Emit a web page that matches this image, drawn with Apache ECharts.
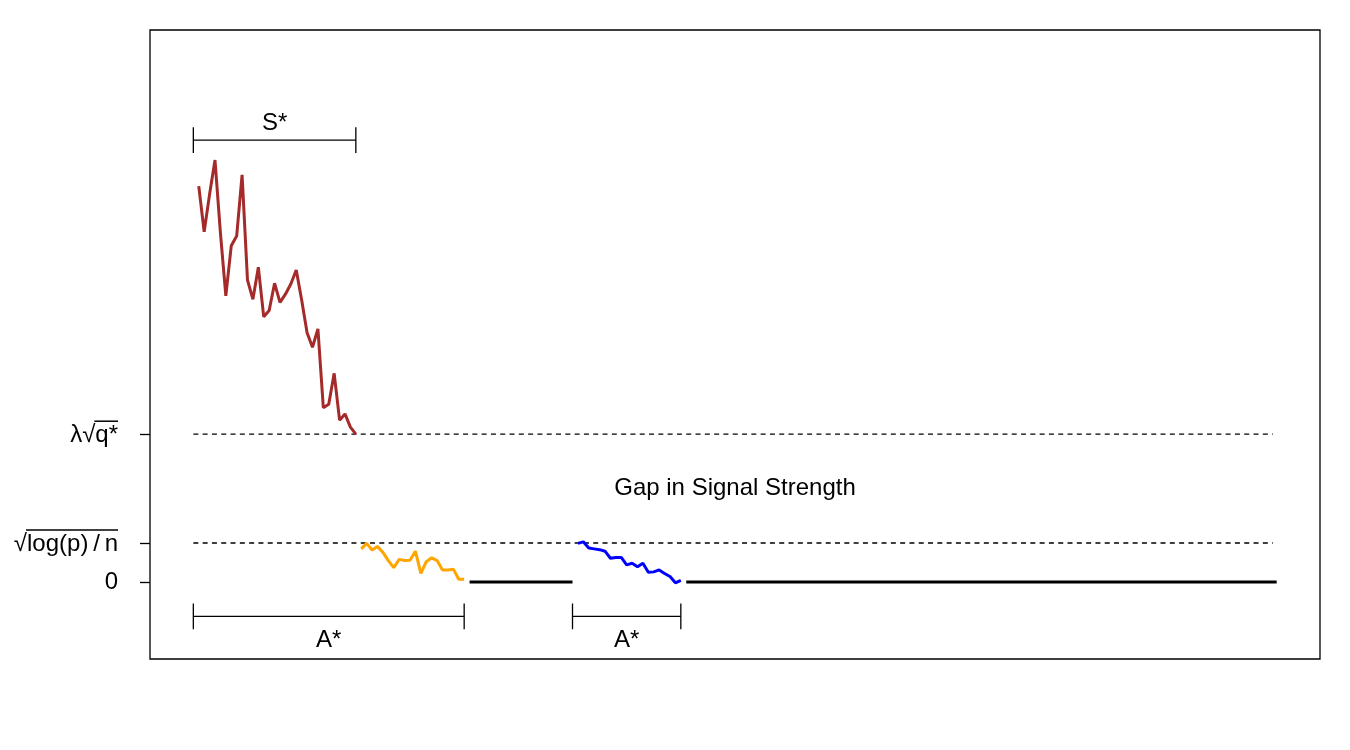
<!DOCTYPE html>
<html>
<head>
<meta charset="utf-8">
<script src="https://cdn.jsdelivr.net/npm/echarts@6/dist/echarts.min.js"></script>
</head>
<body style="margin:0;width:1350px;height:750px;background:#fff">
<div id="container" style="width:1350px;height:750px"></div>
<script>
// y units: sqrt(log(p)/n) = 1
var lamQ = 3.79;
var noiseLevel = 1;
var tickValues = [0, noiseLevel, lamQ];
// [plain prefix, overlined part]
var tickLabels = [['0', ''], ['\u221A', 'log(p)\u2009/\u2009n'], ['\u03BB\u221A', 'q*']];

// strong signals, x = 1..30
var strongStart = 1;
var strongVals = [10.15, 8.98, 9.94, 10.82, 8.95, 7.34, 8.62, 8.87, 10.44, 7.74,
                  7.25, 8.07, 6.80, 6.96, 7.66, 7.17, 7.38, 7.64, 8.00, 7.23,
                  6.39, 6.02, 6.49, 4.47, 4.56, 5.35, 4.15, 4.31, 3.97, 3.79];
// weak signals (orange), x = 31..50
var weakStart1 = 31;
var weakVals1 = [0.85, 0.99, 0.82, 0.91, 0.76, 0.55, 0.37, 0.58, 0.55, 0.56,
                 0.79, 0.22, 0.52, 0.62, 0.55, 0.31, 0.31, 0.33, 0.07, 0.07];
// weak signals (blue), x = 71..90
var weakStart2 = 71;
var weakVals2 = [0.99, 1.03, 0.87, 0.85, 0.83, 0.79, 0.61, 0.63, 0.63, 0.44,
                 0.48, 0.39, 0.48, 0.25, 0.26, 0.31, 0.22, 0.14, -0.02, 0.04];
// zero runs [from, to]
var zeroRuns = [[51, 70], [91, 200]];

// brackets: [from, to, level, label]
var brackets = [[0, 30, 11.33, 'S*'], [0, 50, -0.88, 'A*'], [70, 90, -0.88, 'A*']];
var gapText = ['Gap in Signal Strength', 100, 2.41];

var FONT = 'Liberation Sans';
var ctx = document.createElement('canvas').getContext('2d');
ctx.font = '24px "' + FONT + '"';
function textW(s) { return s ? ctx.measureText(s).width : 0; }

function toPts(start, vals) {
  return vals.map(function (v, i) { return [start + i, v]; });
}

var series = [];
function seg(data, color, width, type) {
  series.push({
    type: 'line', data: data, symbol: 'none', silent: true, animation: false,
    lineStyle: { color: color, width: width, type: type || 'solid' }
  });
}

seg([[0, lamQ], [199.3, lamQ]], '#000', 1.3, [5, 4.3]);
seg([[0, noiseLevel], [199.3, noiseLevel]], '#000', 1.3, [5, 4.3]);
seg(toPts(strongStart, strongVals), '#A52A2A', 3);
seg(toPts(weakStart1, weakVals1), '#FFA500', 3);
seg(toPts(weakStart2, weakVals2), '#0000FF', 3);
zeroRuns.forEach(function (r) { seg([[r[0], 0], [r[1], 0]], '#000', 3); });

var labelPts = [];
brackets.forEach(function (b) {
  var up = b[2] > 5;
  seg([[b[0], b[2]], [b[1], b[2]]], '#000', 1.3);
  seg([[b[0], b[2] - 0.33], [b[0], b[2] + 0.33]], '#000', 1.3);
  seg([[b[1], b[2] - 0.33], [b[1], b[2] + 0.33]], '#000', 1.3);
  labelPts.push({ value: [(b[0] + b[1]) / 2, b[2] + (up ? 0.42 : -0.62)], name: b[3] });
});
labelPts.push({ value: [gapText[1], gapText[2]], name: gapText[0] });

series.push({
  type: 'scatter', data: labelPts, symbolSize: 0, silent: true, animation: false,
  itemStyle: { opacity: 1 },
  label: {
    show: true, position: 'inside', formatter: '{b}', opacity: 1,
    color: '#000', fontSize: 24, fontFamily: FONT
  }
});

var myChart = echarts.init(document.getElementById('container'));
var option = {
  animation: false,
  grid: { left: 150, right: 30, top: 30, bottom: 91, show: true, borderColor: '#000', borderWidth: 1.3, backgroundColor: 'transparent' },
  xAxis: { type: 'value', min: -8, max: 208, show: false },
  yAxis: {
    type: 'value', min: -1.974, max: 14.154,
    axisLine: { show: false, onZero: false },
    splitLine: { show: false },
    axisTick: { show: true, length: 10, inside: false, customValues: tickValues, lineStyle: { color: '#000', width: 1.3 } },
    axisLabel: {
      show: true, customValues: tickValues, margin: 32,
      color: '#000', fontSize: 24, fontFamily: FONT,
      formatter: function (v) {
        var i = tickValues.indexOf(v);
        if (i < 0) return '';
        var pre = tickLabels[i][0], over = tickLabels[i][1];
        var txt = '{t|' + pre + over + '}';
        if (!over) return txt;
        return '{s| }{o| }\n' + txt;
      },
      rich: {
        t: { fontSize: 24, fontFamily: FONT, color: '#000', lineHeight: 26 },
        s: { width: 0, height: 1.5, lineHeight: 3 },
        o: { width: 0, height: 1.5, lineHeight: 3, backgroundColor: '#000' }
      }
    }
  },
  series: series
};

// overline widths from measured text
var lamParts = tickLabels[2], noiseParts = tickLabels[1];
option.yAxis.axisLabel.formatter = function (v) {
  var i = tickValues.indexOf(v);
  if (i < 0) return '';
  var pre = tickLabels[i][0], over = tickLabels[i][1];
  var txt = '{t|' + pre + over + '}';
  if (!over) return txt;
  var k = i === 1 ? 'n' : 'l';
  return '{s' + k + '| }{o' + k + '| }\n' + txt;
};
var rich = option.yAxis.axisLabel.rich;
rich.sn = { width: textW(noiseParts[0]) - 1, height: 1.5, lineHeight: 3 };
rich.on = { width: textW(noiseParts[1]) + 1, height: 1.5, lineHeight: 3, backgroundColor: '#000' };
rich.sl = { width: textW(lamParts[0]) - 1, height: 1.5, lineHeight: 3 };
rich.ol = { width: textW(lamParts[1]) + 1, height: 1.5, lineHeight: 3, backgroundColor: '#000' };

myChart.setOption(option, true);
</script>
</body>
</html>
